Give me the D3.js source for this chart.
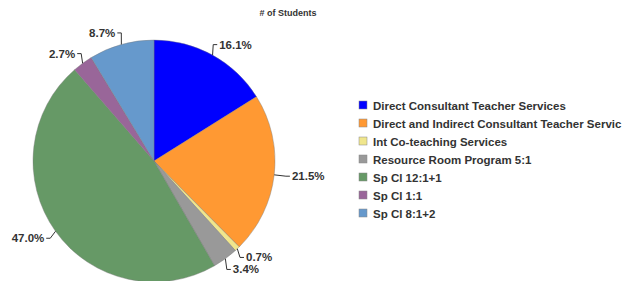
<!DOCTYPE html>
<html><head><meta charset="utf-8">
<script src="https://cdn.jsdelivr.net/npm/d3@7"></script>
<style>
body{margin:0;background:#fff;overflow:hidden}
text{font-family:Arial,"Liberation Sans",sans-serif;font-weight:bold;fill:#333}
</style></head>
<body><svg id="c" width="631" height="281"></svg>
<script>
const categories=["Direct Consultant Teacher Services","Direct and Indirect Consultant Teacher Servic","Int Co-teaching Services","Resource Room Program 5:1","Sp Cl 12:1+1","Sp Cl 1:1","Sp Cl 8:1+2"];
const values=[16.1,21.5,0.7,3.4,47.0,2.7,8.7];
const labels=["16.1%","21.5%","0.7%","3.4%","47.0%","2.7%","8.7%"];
const colors=["#0000ff","#ff9933","#f0e68c","#999999","#669966","#996699","#6699cc"];
const title="# of Students";

const svg=d3.select("#c");
svg.append("text").attr("x",288).attr("y",16).attr("text-anchor","middle").attr("font-size",9).text(title);

const cx=154,cy=161,R=121;
const pie=d3.pie().sort(null).value(d=>d);
const arcs=pie(values);
const arc=d3.arc().innerRadius(0).outerRadius(R);
const g=svg.append("g").attr("transform",`translate(${cx},${cy})`);
g.selectAll("path").data(arcs).join("path").attr("d",arc)
 .attr("fill",(d,i)=>colors[i]).attr("stroke","#777").attr("stroke-width",0.4);

// label connectors
let lastRightY=-1e9;
arcs.forEach((d,i)=>{
  const a=(d.startAngle+d.endAngle)/2;
  const sn=Math.sin(a),cs=Math.cos(a);
  const s=[sn*R,-cs*R];
  const L=12;
  const m=[s[0]+sn*L*Math.pow(Math.abs(sn),3),s[1]-cs*L];
  const right=sn>=0;
  if(right){ if(m[1]<lastRightY+12) m[1]=lastRightY+12; lastRightY=m[1]; }
  const e=[m[0]+(right?4:-4),m[1]];
  g.append("polyline").attr("points",[s,m,e].map(p=>p.join(",")).join(" "))
   .attr("fill","none").attr("stroke","#333").attr("stroke-width",1);
  g.append("text").attr("x",e[0]+(right?2:-2)).attr("y",e[1]+4)
   .attr("text-anchor",right?"start":"end").attr("font-size",11.5).text(labels[i]);
});

const lg=svg.append("g").attr("transform","translate(359,101)");
const y=d3.scaleBand().domain(categories).range([0,126]);
categories.forEach((c,i)=>{
  lg.append("rect").attr("x",0).attr("y",y(c)).attr("width",8).attr("height",8)
   .attr("fill",colors[i]).attr("stroke","#888").attr("stroke-width",0.5);
  lg.append("text").attr("x",14).attr("y",y(c)+8.5).attr("font-size",11.5).text(c);
});
</script></body></html>
